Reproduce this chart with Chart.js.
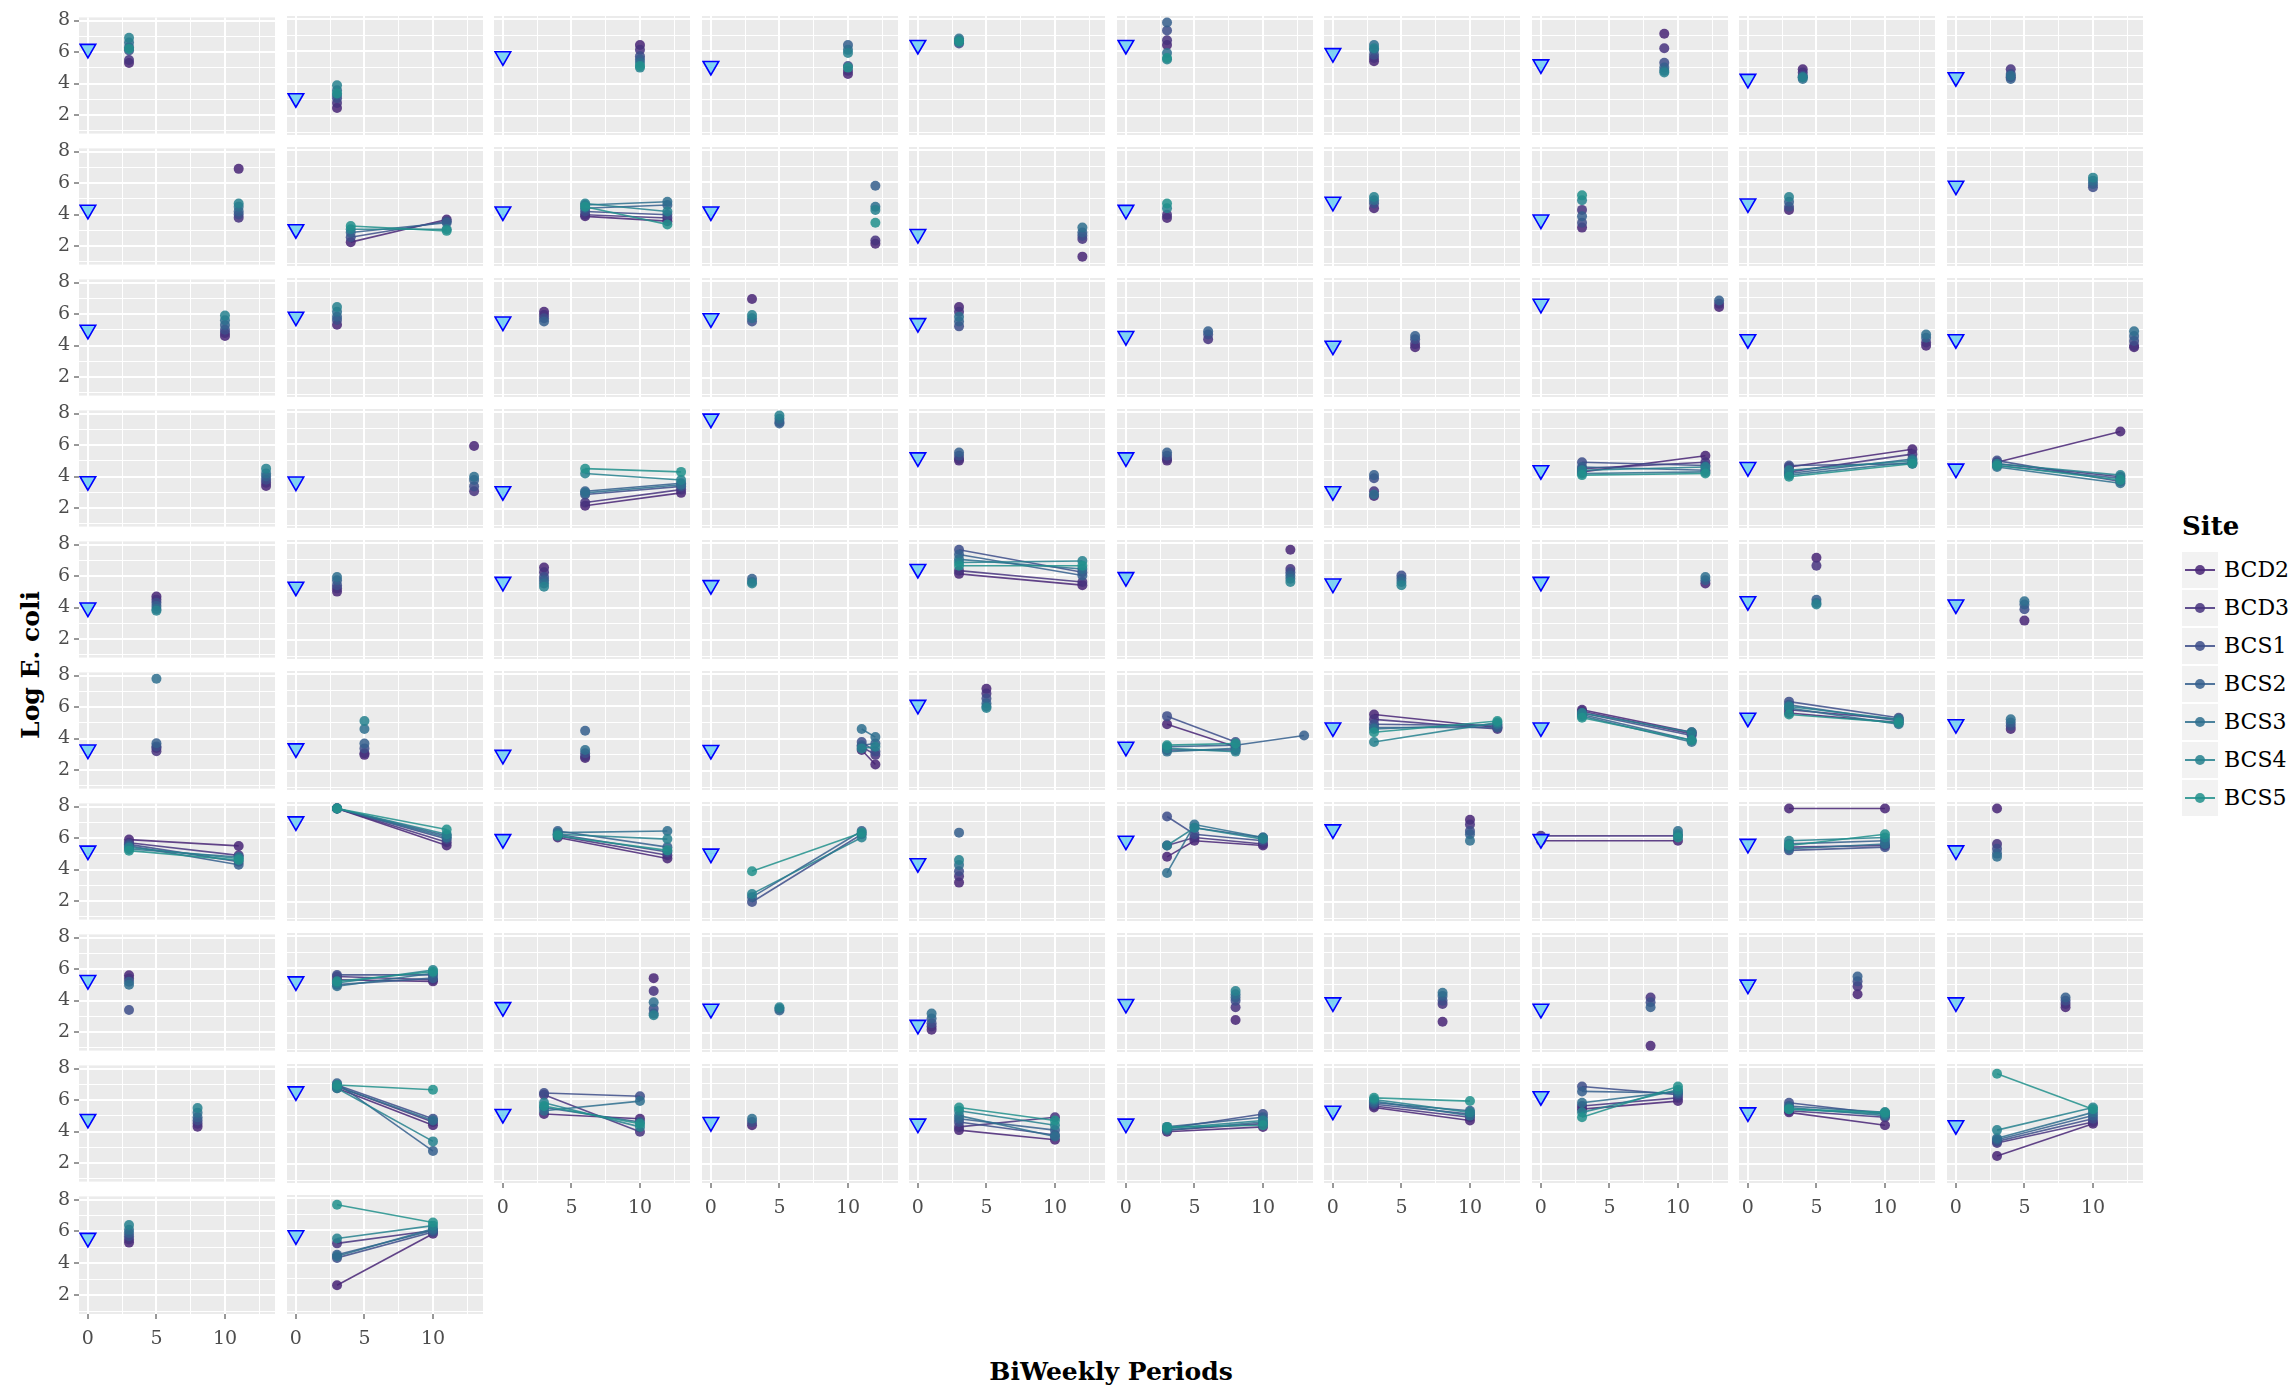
<!DOCTYPE html>
<html>
<head>
<meta charset="utf-8">
<title>Log E. coli by BiWeekly Period</title>
<script src="https://cdn.jsdelivr.net/npm/chart.js@4.4.1/dist/chart.umd.min.js"></script>
<style>
  html, body { margin: 0; padding: 0; background: #ffffff; }
  body { width: 2292px; height: 1388px; position: relative; overflow: hidden; font-family: "DejaVu Serif", serif; }
  canvas.panel { position: absolute; }
  .axis-title { position: absolute; color: #000; white-space: nowrap; font-family: "DejaVu Serif", serif; font-weight: bold; }
  #ytitle { left: 30px; top: 665px; transform: translate(-50%, -50%) rotate(-90deg); font-size: 25px; }
  #xtitle { left: 1111px; top: 1371px; transform: translate(-50%, -50%); font-size: 25px; }
  #legend { position: absolute; left: 2182px; top: 509px; }
  #legend .ltitle { font-size: 26px; font-weight: bold; color: #000; margin-bottom: 8px; line-height: 34px; }
  #legend .item { position: relative; height: 38px; }
  #legend .key { position: absolute; left: 0; top: 1px; width: 36px; height: 36px; background: #F2F2F2; }
  #legend .key .ln { position: absolute; left: 3px; right: 3px; top: 17px; height: 2px; }
  #legend .key .dot { position: absolute; left: 13px; top: 13px; width: 10px; height: 10px; border-radius: 50%; }
  #legend .lab { position: absolute; left: 42px; top: 4px; font-size: 22px; color: #000; line-height: 30px; }
</style>
</head>
<body>
<div id="ytitle" class="axis-title">Log E. coli</div>
<div id="xtitle" class="axis-title">BiWeekly Periods</div>
<div id="legend"></div>
<script>
// Sampling sites and their colours (viridis, 0.1 to 0.5)
const sites = ['BCD2', 'BCD3', 'BCS1', 'BCS2', 'BCS3', 'BCS4', 'BCS5'];
const siteColors = ['#482475', '#46337E', '#3D4D8A', '#355F8D', '#2E6E8E', '#26818E', '#21918C'];

// BiWeekly periods sampled in each facet (one entry per facet)
const periods = [
  [3],[3],[10],[10],[3],[3],[3],[9],[4],[4],
  [11],[4,11],[6,12],[12],[12],[3],[3],[3],[3],[10],
  [10],[3],[3],[3],[3],[6],[6],[13],[13],[13],
  [13],[13],[6,13],[5],[3],[3],[3],[3,12],[3,12],[3,12],
  [5],[3],[3],[3],[3,12],[12],[5],[12],[5],[5],
  [5],[5],[6],[11,12],[5],[3,8,13],[3,12],[3,11],[3,11],[4],
  [3,11],[3,11],[4,12],[3,11],[3],[3,5,10],[10],[0,10],[3,10],[3],
  [3],[3,10],[11],[5],[1],[8],[8],[8],[8],[8],
  [8],[3,10],[3,10],[3],[3,10],[3,10],[3,10],[3,10],[3,10],[3,10],
  [3],[3,10]
];

// Period-0 reference value of each facet (drawn as the blue triangle)
const baseline = [
  6.2, 3.1, 5.7, 5.1, 6.4, 6.4, 5.9, 5.2, 4.3, 4.4,
  4.3, 3.1, 4.2, 4.2, 2.8, 4.3, 4.8, 3.7, 4.7, 5.8,
  5.0, 5.8, 5.5, 5.7, 5.4, 4.6, 4.0, 6.6, 4.4, 4.4,
  3.7, 3.7, 3.1, 7.6, 5.2, 5.2, 3.1, 4.4, 4.6, 4.5,
  4.0, 5.3, 5.6, 5.4, 6.4, 5.9, 5.5, 5.6, 4.4, 4.2,
  3.3, 3.4, 3.0, 3.3, 6.1, 3.5, 4.7, 4.7, 5.3, 4.9,
  5.2, 7.0, 5.9, 5.0, 4.4, 5.8, 6.5, 5.9, 5.6, 5.2,
  5.3, 5.2, 3.6, 3.5, 2.5, 3.8, 3.9, 3.5, 5.0, 3.9,
  4.8, 6.5, 5.1, 4.6, 4.5, 4.5, 5.3, 6.2, 5.2, 4.4,
  5.6, 5.7
];

// Log E. coli per site and facet; a list follows that facet's periods, null = not sampled
const BCD2 = [
  5.3, 2.5, 6.4, 4.6, null, 6.4, 5.4, 7.1, 4.9, 4.4,
  6.9, [2.3,3.7], [3.9,3.6], 2.2, 1.4, 3.8, 4.4, 3.2, 4.3, null,
  4.6, 5.3, 6.1, 6.9, 6.4, null, 3.9, 6.4, 4.0, 3.9,
  3.4, 5.9, [2.2,3.0], null, 5.0, 5.0, 2.8, [4.3,5.3], [4.6,5.7], [4.9,6.8],
  4.7, 5.0, 6.5, null, [6.1,5.4], 7.6, null, 5.5, 7.1, 3.2,
  3.4, 3.0, 2.8, [3.3,2.4], 7.1, [4.9,3.5,null], [5.5,4.7], [5.8,4.4], [5.6,5.0], 4.6,
  [5.9,5.5], [7.8,5.5], [6.0,4.7], null, 3.2, [4.8,5.8,5.5], 7.1, [5.8,5.8], [7.8,7.8], 7.8,
  5.6, [5.3,5.2], 5.4, null, 2.2, 2.8, 2.7, 1.2, 4.4, 3.6,
  4.3, [6.7,4.4], [5.1,4.8], 4.4, [4.1,3.5], [4.0,4.3], [5.5,4.7], [5.4,5.9], [5.2,4.4], [2.5,4.5],
  5.3, [2.6,5.8]
];
const BCD3 = [
  5.5, 2.8, 6.1, 4.8, null, 6.7, 5.6, 6.2, 4.7, 4.9,
  3.8, null, [4.0,3.8], 2.4, 2.5, 4.0, null, 4.3, null, null,
  4.8, null, 5.9, null, 6.1, 4.4, 4.1, 6.6, 4.2, 4.0,
  3.6, 3.1, [2.4,3.2], null, 5.1, 5.1, 3.1, [4.5,4.9], [4.3,5.4], [4.8,4.0],
  4.5, 5.2, 6.2, null, [6.3,5.6], 6.4, null, null, 6.6, null,
  3.2, 3.1, 2.9, [3.5,3.0], 6.8, [3.3,3.3,null], [5.2,4.6], [5.7,4.3], [5.8,5.2], null,
  [5.7,4.9], [7.8,5.7], [6.1,4.9], null, 3.6, [5.5,6.0,5.6], 6.8, [6.1,6.1], [5.4,5.5], 5.6,
  5.4, [5.5,5.3], 4.6, null, 2.4, 3.6, 3.8, 4.2, 4.9, 3.8,
  4.5, [6.8,4.6], [6.3,4.0], null, [4.3,4.9], [4.1,4.5], [5.6,4.9], [5.6,6.1], [5.3,4.9], [3.3,4.6],
  5.5, [5.2,6.0]
];
const BCS1 = [
  6.1, 3.1, 5.7, 5.1, 6.5, 7.3, 5.8, 5.3, 4.5, 4.6,
  4.0, [2.6,3.6], [4.2,4.0], null, 2.7, null, 4.7, 3.5, 4.5, 5.7,
  5.0, 5.6, 5.7, 5.5, 5.2, 4.7, 4.4, null, null, 4.3,
  3.8, 3.4, [2.9,3.4], 7.4, 5.3, 5.3, 3.9, [4.9,4.7], [4.7,4.8], [5.0,3.7],
  4.3, 5.4, 5.9, null, [7.6,6.2], 6.2, 6.0, null, null, 3.9,
  3.5, 3.4, 3.1, [3.8,3.2], 6.5, [5.4,3.8,null], [4.9,4.8], [5.6,4.2], [6.3,5.3], 4.8,
  [5.6,4.5], [7.8,5.9], [6.2,5.1], [2.0,6.2], 3.9, [7.3,6.2,5.8], 6.4, null, [5.2,5.4], 5.3,
  3.4, [5.6,5.6], 3.5, null, 2.6, 4.0, 4.0, 3.9, 5.2, 4.0,
  4.7, [6.9,4.8], [6.4,6.2], 4.6, [4.6,3.8], [4.2,5.1], [5.7,5.1], [6.8,6.3], [5.8,5.1], [3.4,4.8],
  5.7, [4.3,5.9]
];
const BCS2 = [
  6.3, 3.3, 5.5, 6.4, 6.6, 7.8, 6.1, 5.0, 4.4, 4.3,
  4.2, [2.9,3.5], [4.4,4.6], 5.8, 2.9, null, null, 3.9, 4.8, 5.9,
  5.3, 5.8, 5.5, null, 5.5, 4.9, 4.6, 6.8, 4.5, 4.6,
  4.0, 3.8, [3.1,3.6], 7.3, 5.5, 5.5, 4.1, [4.6,4.4], [4.2,5.1], [4.7,3.9],
  4.1, 5.7, 5.7, 5.8, [7.3,6.0], 6.0, 5.8, 5.7, 4.5, 4.2,
  3.7, 3.7, 4.5, [3.6,3.7], 6.2, [3.5,3.6,4.2], [4.7,4.7], [5.5,3.9], [6.1,5.1], 5.0,
  [5.5,4.3], [7.8,6.1], [6.4,5.4], [2.3,6.4], 6.3, [null,6.6,6.0], 6.2, null, [5.6,5.8], 5.0,
  5.2, [5.0,5.4], 3.2, 3.4, 2.9, 4.2, 4.3, 3.6, 5.5, 4.2,
  4.9, [7.0,2.8], [5.5,4.6], null, [4.8,4.1], [4.3,4.9], [5.8,5.3], [6.5,6.4], [5.6,5.2], [3.5,5.0],
  5.9, [4.5,6.0]
];
const BCS3 = [
  6.6, 3.6, 5.3, 6.1, 6.8, 5.9, 6.4, 4.8, 4.3, 4.5,
  4.5, null, [4.6,4.8], 4.5, 3.2, null, 4.9, null, null, 6.1,
  5.6, 6.1, null, 5.7, 5.8, null, null, null, 4.7, 4.9,
  4.2, 4.0, [3.0,3.5], 7.6, null, null, 2.9, [4.2,4.3], [4.1,4.9], [4.6,3.6],
  3.9, 5.9, 5.5, 5.6, [7.0,6.4], 5.8, 5.6, 5.9, 4.3, 4.4,
  7.8, 4.6, 3.3, [4.6,4.1], 6.0, [3.2,3.4,null], [4.6,4.9], [5.4,3.8], [5.9,4.9], 5.2,
  [5.3,4.8], [7.8,6.0], [6.3,6.4], null, 4.3, [3.8,6.8,6.0], 5.8, [null,6.4], [5.3,5.6], 4.8,
  5.0, [4.9,5.7], 3.9, 3.5, 3.2, 4.4, 4.5, null, null, null,
  5.2, [6.8,4.7], [5.3,5.9], 4.8, [5.0,3.7], [4.1,4.6], [5.9,5.0], [5.8,6.5], [5.5,5.0], [3.6,5.2],
  6.1, [4.4,6.1]
];
const BCS4 = [
  6.9, 3.9, 5.0, 5.9, 6.7, 5.5, 6.2, 4.7, 4.4, null,
  4.7, [3.1,3.1], [4.7,4.2], 4.3, null, 4.4, 5.1, 4.9, 5.1, 6.3,
  5.9, 6.4, null, 5.9, null, null, null, null, null, null,
  4.5, null, [4.2,3.8], 7.8, null, null, null, [4.4,4.6], [4.4,5.0], [4.8,4.1],
  3.8, null, 5.3, 5.5, [6.8,6.9], 5.6, 5.4, null, 4.2, null,
  null, 5.1, null, [3.4,3.5], 5.9, [3.4,3.2,null], [3.8,5.0], [5.6,4.4], [6.0,5.2], null,
  [5.4,4.7], [7.8,6.2], [6.2,5.9], [2.5,6.0], 4.6, [5.5,6.6,5.9], null, [null,6.2], [5.8,6.0], null,
  null, [5.1,5.9], 3.1, 3.6, null, 4.6, null, null, null, null,
  5.5, [6.7,3.4], [5.8,4.3], null, [5.3,4.4], [4.2,4.7], [6.0,5.2], [5.2,6.6], [5.4,5.1], [4.1,5.5],
  6.4, [5.5,6.3]
];
const BCS5 = [
  6.2, 3.4, 5.1, 5.0, 6.6, 5.6, null, null, null, null,
  null, [3.3,3.0], [4.5,3.4], 3.5, null, 4.7, null, 5.2, null, null,
  null, null, null, null, null, null, null, null, null, null,
  null, null, [4.5,4.3], null, null, null, null, [4.1,4.2], [4.0,4.8], [4.7,3.8],
  null, null, null, null, [6.6,6.6], null, null, null, null, null,
  null, null, null, null, null, [3.6,3.7,null], [4.4,5.1], [5.3,3.9], [5.5,5.0], null,
  [5.2,4.6], [7.8,6.5], [6.1,5.2], [3.9,6.3], null, null, null, [null,6.0], [5.5,6.2], null,
  null, [5.2,5.8], null, null, null, null, null, null, null, null,
  null, [6.9,6.6], [5.6,4.5], null, [5.5,4.7], [4.3,4.4], [6.1,5.9], [4.9,6.8], [5.4,5.2], [7.6,5.4],
  null, [7.6,6.5]
];

const siteSeries = [BCD2, BCD3, BCS1, BCS2, BCS3, BCS4, BCS5];

// Axis ticks shared by every facet
const xTicks = [0, 2.5, 5, 7.5, 10, 12.5];
const xLabels = [0, 5, 10];
const yTicks = [1, 2, 3, 4, 5, 6, 7, 8];
const yLabels = [2, 4, 6, 8];

// Facet grid geometry
const NCOL = 10;
const PANEL_W = 196, PANEL_H = 119;
const LEFT0 = 79, PITCH_X = 207.5;
const TOP0 = 16, PITCH_Y = 131;
const PAD = 14;
const Y_AXIS_W = 40, X_AXIS_H = 44;

function withAlpha(hex, a) {
  const n = parseInt(hex.slice(1), 16);
  return `rgba(${(n >> 16) & 255},${(n >> 8) & 255},${n & 255},${a})`;
}

const panelBackground = {
  id: 'panelBackground',
  beforeDraw(chart) {
    const { ctx, chartArea: a } = chart;
    ctx.save();
    ctx.fillStyle = '#EBEBEB';
    ctx.fillRect(a.left, a.top, a.right - a.left, a.bottom - a.top);
    ctx.restore();
  }
};

const nPanels = periods.length;
for (let i = 0; i < nPanels; i++) {
  const col = i % NCOL, row = Math.floor(i / NCOL);
  const lastRow = Math.floor((nPanels - 1) / NCOL);
  const isLeft = col === 0;
  const isBottom = row === lastRow || (row === lastRow - 1 && col > (nPanels - 1) % NCOL);
  const axisW = isLeft ? Y_AXIS_W : 0;
  const axisH = isBottom ? X_AXIS_H : 0;

  const panelLeft = Math.round(LEFT0 + col * PITCH_X);
  const panelTop = Math.round(TOP0 + row * PITCH_Y);

  const canvas = document.createElement('canvas');
  canvas.className = 'panel';
  const cw = PAD + axisW + PANEL_W + PAD;
  const chh = PAD + PANEL_H + axisH + PAD;
  canvas.width = cw; canvas.height = chh;
  canvas.style.width = cw + 'px'; canvas.style.height = chh + 'px';
  canvas.style.left = (panelLeft - PAD - axisW) + 'px';
  canvas.style.top = (panelTop - PAD) + 'px';
  document.body.appendChild(canvas);

  const datasets = [{
    label: 'Period 0',
    data: [{ x: 0, y: baseline[i] }],
    showLine: false,
    pointStyle: 'triangle',
    rotation: 180,
    pointRadius: 9,
    pointBackgroundColor: '#7FD3F2',
    pointBorderColor: '#0000FF',
    pointBorderWidth: 1.6,
    order: 0
  }];

  sites.forEach((name, k) => {
    const raw = siteSeries[k][i];
    if (raw === null || raw === undefined) return;
    const vals = Array.isArray(raw) ? raw : [raw];
    const data = periods[i].map((p, j) => ({ x: p, y: vals[j] === undefined ? null : vals[j] }));
    const c = withAlpha(siteColors[k], 0.85);
    datasets.push({
      label: name,
      data,
      showLine: periods[i].length > 1,
      spanGaps: false,
      borderColor: c,
      borderWidth: 1.6,
      backgroundColor: c,
      pointBackgroundColor: c,
      pointBorderWidth: 0,
      pointRadius: 5,
      order: sites.length - k
    });
  });

  new Chart(canvas, {
    type: 'scatter',
    data: { datasets },
    plugins: [panelBackground],
    options: {
      responsive: false,
      animation: false,
      devicePixelRatio: 1,
      events: [],
      layout: { padding: { left: PAD, right: PAD, top: PAD, bottom: PAD }, autoPadding: false },
      plugins: { legend: { display: false }, tooltip: { enabled: false } },
      scales: {
        x: {
          type: 'linear',
          min: -0.65, max: 13.65,
          afterBuildTicks: s => { s.ticks = xTicks.map(v => ({ value: v })); },
          afterFit: s => { s.height = axisH; },
          border: { display: false },
          grid: {
            color: '#FFFFFF',
            lineWidth: c => (c.tick && xLabels.includes(c.tick.value)) ? 2 : 1,
            drawTicks: isBottom,
            tickLength: 5,
            tickWidth: 1,
            tickColor: c => (c.tick && xLabels.includes(c.tick.value)) ? '#333333' : 'rgba(0,0,0,0)'
          },
          ticks: {
            display: isBottom,
            autoSkip: false,
            maxRotation: 0,
            padding: 9,
            color: '#4D4D4D',
            font: { family: 'DejaVu Serif', size: 19 },
            callback: v => xLabels.includes(v) ? String(v) : ''
          }
        },
        y: {
          type: 'linear',
          min: 0.82, max: 8.2,
          afterBuildTicks: s => { s.ticks = yTicks.map(v => ({ value: v })); },
          afterFit: s => { s.width = axisW; },
          border: { display: false },
          grid: {
            color: '#FFFFFF',
            lineWidth: c => (c.tick && yLabels.includes(c.tick.value)) ? 2 : 1,
            drawTicks: isLeft,
            tickLength: 5,
            tickWidth: 1,
            tickColor: c => (c.tick && yLabels.includes(c.tick.value)) ? '#333333' : 'rgba(0,0,0,0)'
          },
          ticks: {
            display: isLeft,
            autoSkip: false,
            padding: 4,
            color: '#4D4D4D',
            font: { family: 'DejaVu Serif', size: 19 },
            callback: v => yLabels.includes(v) ? String(v) : ''
          }
        }
      }
    }
  });
}

// Site legend
const legend = document.getElementById('legend');
const lt = document.createElement('div');
lt.className = 'ltitle';
lt.textContent = 'Site';
legend.appendChild(lt);
sites.forEach((name, k) => {
  const item = document.createElement('div');
  item.className = 'item';
  const key = document.createElement('div');
  key.className = 'key';
  const ln = document.createElement('div');
  ln.className = 'ln';
  ln.style.background = withAlpha(siteColors[k], 0.85);
  const dot = document.createElement('div');
  dot.className = 'dot';
  dot.style.background = withAlpha(siteColors[k], 0.85);
  key.appendChild(ln); key.appendChild(dot);
  const lab = document.createElement('div');
  lab.className = 'lab';
  lab.textContent = name;
  item.appendChild(key); item.appendChild(lab);
  legend.appendChild(item);
});
</script>
</body>
</html>
